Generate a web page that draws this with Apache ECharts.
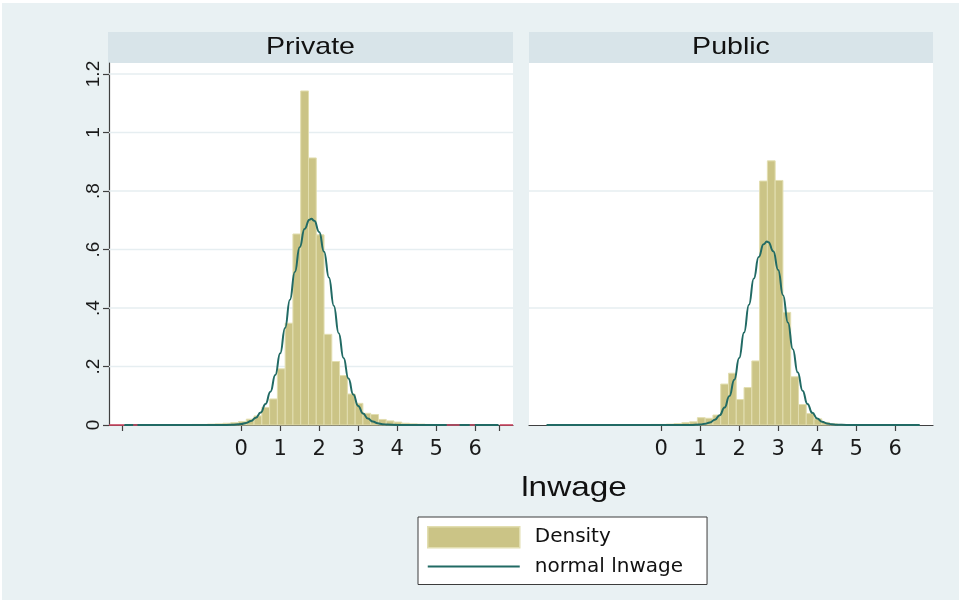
<!DOCTYPE html>
<html><head><meta charset="utf-8">
<script src="https://cdn.jsdelivr.net/npm/echarts@6/dist/echarts.min.js"></script>
<style>html,body{margin:0;padding:0;background:#ffffff}#c{width:964px;height:603px}</style>
</head><body><div id="c"></div>
<script>
// ---------------- data ----------------
const panelTitles = ['Private', 'Public'];
const xTitle = 'lnwage';
const legendNames = ['Density', 'normal lnwage'];

const binStart = -3.06;
const binWidth = 0.1994;
// histogram densities, one value per bin (bin k starts at binStart + k*binWidth)
const privateDensity = [0,0,0,0,0.001,0.001,0.001,0.001,0.001,0.002,0.002,0.003,0.004,0.006,0.008,0.012,0.020,0.031,0.060,0.089,0.192,0.348,0.653,1.142,0.913,0.650,0.310,0.217,0.169,0.106,0.074,0.040,0.036,0.019,0.014,0.010,0.006,0.004,0.003,0.002,0.001,0.001,0.001,0.001,0.001,0,0,0,0];
const publicDensity = [0,0,0,0,0,0,0.001,0.001,0.001,0.001,0.001,0.001,0.001,0.001,0.002,0.002,0.003,0.005,0.008,0.011,0.025,0.023,0.034,0.140,0.177,0.087,0.128,0.219,0.834,0.903,0.836,0.385,0.165,0.070,0.039,0.021,0.009,0.004,0.002,0.001,0,0,0,0,0,0,0,0,0];

// normal density overlay as [lnwage, density]
const privateNormal = [[-3.0,0],[-1.0,0],[-0.5,0.0001],[-0.25,0.0007],[0,0.0033],[0.125,0.0068],[0.25,0.0133],[0.375,0.0246],[0.5,0.043],[0.625,0.072],[0.75,0.114],[0.875,0.171],[1.0,0.245],[1.125,0.332],[1.25,0.428],[1.375,0.523],[1.5,0.608],[1.625,0.670],[1.75,0.702],[1.8,0.705],[1.875,0.698],[2.0,0.660],[2.125,0.592],[2.25,0.504],[2.375,0.408],[2.5,0.314],[2.625,0.229],[2.75,0.159],[2.875,0.104],[3.0,0.065],[3.125,0.039],[3.25,0.022],[3.375,0.0117],[3.5,0.0059],[3.625,0.0029],[3.75,0.0013],[4.0,0.0002],[4.5,0],[6.6,0]];
const publicNormal = [[-2.94,0],[0,0],[0.5,0.0001],[0.75,0.0003],[1.0,0.0018],[1.125,0.0041],[1.25,0.0088],[1.375,0.0178],[1.5,0.0335],[1.625,0.0596],[1.75,0.099],[1.875,0.155],[2.0,0.229],[2.125,0.316],[2.25,0.411],[2.375,0.501],[2.5,0.574],[2.625,0.618],[2.71,0.627],[2.75,0.625],[2.875,0.594],[3.0,0.530],[3.125,0.444],[3.25,0.350],[3.375,0.259],[3.5,0.180],[3.625,0.1175],[3.75,0.0722],[3.875,0.0415],[4.0,0.0225],[4.125,0.0114],[4.25,0.0055],[4.375,0.0025],[4.5,0.001],[4.75,0.0002],[5.0,0],[6.63,0]];

const xTickValues = [0,1,2,3,4,5,6];
const xTickLabels = ['0','1','2','3','4','5','6'];
const privateExtraTicks = [-3.06, 6.63];
const yTickValues = [0,0.2,0.4,0.6,0.8,1,1.2];
const yTickLabels = ['0','.2','.4','.6','.8','1','1.2'];
const privateGridValues = [0.2,0.4,0.6,0.8,1,1.2];
const publicGridValues = [0.4,0.8];
const redBaseSegments = [[-3.39,-3.0],[-2.77,-2.66],[5.27,5.6],[5.86,5.99],[6.63,6.97]];

// ---------------- style ----------------
const BAR = '#cbc486';
const BAR_EDGE = '#e2deb0';
const LINE = '#216a64';
const GRIDC = '#e6eef1';
const AXISC = '#404040';
const X_MIN = -3.39, X_MAX = 6.97, Y_MAX = 1.2376;

function toBins(arr){
  const out = [];
  arr.forEach((h, k) => {
    const x0 = binStart + k * binWidth;
    out.push([x0, x0 + binWidth, h]);
  });
  return out;
}
function renderBar(params, api){
  const x0 = api.value(0), x1 = api.value(1), h = api.value(2);
  if (!(h > 0)) return {type:'group', children:[]};
  const p0 = api.coord([x0, h]);
  const p1 = api.coord([x1, 0]);
  return {type:'rect', shape:{x:p0[0], y:p0[1], width:p1[0]-p0[0], height:p1[1]-p0[1]},
          style:{fill:BAR, stroke:BAR_EDGE, lineWidth:1}};
}
function renderGridLine(params, api){
  const v = api.value(0);
  const a = api.coord([X_MIN, v]);
  const b = api.coord([X_MAX, v]);
  return {type:'line', shape:{x1:a[0], y1:a[1], x2:b[0], y2:b[1]}, style:{stroke:GRIDC, lineWidth:1.5}};
}
function renderSegment(params, api){
  const a = api.coord([api.value(0), 0]);
  const b = api.coord([api.value(1), 0]);
  return {type:'line', shape:{x1:a[0], y1:a[1], x2:b[0], y2:b[1]}, style:{stroke:'#c8455f', lineWidth:1.6}};
}
function gridSeries(idx, vals){
  return {type:'custom', name:'grid'+idx, xAxisIndex:idx, yAxisIndex:idx, z:1, silent:true,
    renderItem:renderGridLine, encode:{y:0}, data:vals.map(v => [v])};
}

const xAxisBase = (idx, ticks) => ({
  type:'value', gridIndex:idx, min:X_MIN, max:X_MAX,
  axisLine:{show:true, onZero:false, lineStyle:{color:AXISC, width:1.2}},
  axisTick:{show:true, length:6, lineStyle:{color:AXISC, width:1.2}, customValues:ticks},
  axisLabel:{show:true, customValues:xTickValues, formatter:v => xTickLabels[xTickValues.indexOf(v)] ?? '',
    fontFamily:'DejaVu Sans', fontSize:21, color:'#1a1a1a', margin:14},
  splitLine:{show:false}
});

const option = {
  backgroundColor:'#ffffff',
  animation:false,
  grid:[
    {left:109, top:63, width:404, height:362, backgroundColor:'#ffffff', show:true, borderWidth:0},
    {left:529, top:63, width:404, height:362, backgroundColor:'#ffffff', show:true, borderWidth:0}
  ],
  xAxis:[
    xAxisBase(0, privateExtraTicks.slice(0,1).concat(xTickValues, privateExtraTicks.slice(1))),
    xAxisBase(1, xTickValues)
  ],
  yAxis:[
    {type:'value', gridIndex:0, min:0, max:Y_MAX,
     axisLine:{show:true, onZero:false, lineStyle:{color:AXISC, width:1.2}},
     axisTick:{show:true, length:6, lineStyle:{color:AXISC, width:1.2}, customValues:yTickValues},
     axisLabel:{show:true, customValues:yTickValues, rotate:90, margin:6,
       formatter:v => { const i = yTickValues.findIndex(t => Math.abs(t-v)<1e-9); return i>=0 ? yTickLabels[i] : ''; },
       fontFamily:'Liberation Sans', fontSize:19, color:'#1a1a1a'},
     splitLine:{show:false}},
    {type:'value', gridIndex:1, min:0, max:Y_MAX,
     axisLine:{show:false, onZero:false}, axisTick:{show:false}, axisLabel:{show:false}, splitLine:{show:false}}
  ],
  legend:{
    orient:'vertical', left:418, top:517,
    padding:[9,24,8,9], itemGap:8, itemWidth:92, itemHeight:21,
    symbolKeepAspect:true,
    backgroundColor:'#ffffff', borderColor:'#3c3c3c', borderWidth:1, borderRadius:0,
    textStyle:{fontFamily:'DejaVu Sans', fontSize:20, color:'#111', padding:[0,0,0,10]},
    data:[{name:legendNames[0], icon:'rect', itemStyle:{color:BAR, borderColor:BAR_EDGE, borderWidth:1.5}},
          {name:legendNames[1], icon:'path://M0,0L92,0L92,2L0,2Z', itemStyle:{color:LINE, borderWidth:0}}]
  },
  series:[
    gridSeries(0, privateGridValues),
    gridSeries(1, publicGridValues),
    {type:'custom', name:legendNames[0], xAxisIndex:0, yAxisIndex:0, z:3, renderItem:renderBar,
     encode:{x:[0,1], y:2}, itemStyle:{color:BAR}, data:toBins(privateDensity)},
    {type:'custom', name:legendNames[0], xAxisIndex:1, yAxisIndex:1, z:3, renderItem:renderBar,
     encode:{x:[0,1], y:2}, itemStyle:{color:BAR}, data:toBins(publicDensity)},
    {type:'line', name:legendNames[1], xAxisIndex:0, yAxisIndex:0, z:5, data:privateNormal,
     symbol:'none', showSymbol:false, smooth:0.5, smoothMonotone:'x',
     lineStyle:{color:LINE, width:2}, itemStyle:{color:LINE}},
    {type:'line', name:legendNames[1], xAxisIndex:1, yAxisIndex:1, z:5, data:publicNormal,
     symbol:'none', showSymbol:false, smooth:0.5, smoothMonotone:'x',
     lineStyle:{color:LINE, width:2}, itemStyle:{color:LINE}},
    {type:'custom', name:'base', xAxisIndex:0, yAxisIndex:0, z:8, silent:true, clip:false,
     renderItem:renderSegment, encode:{x:[0,1]}, data:redBaseSegments}
  ],
  graphic:[
    {type:'rect', z:-10, shape:{x:2, y:3, width:957, height:597}, style:{fill:'#e9f1f3'}},
    {type:'rect', z:-5, shape:{x:108, y:32, width:405, height:31}, style:{fill:'#d8e4e9'}},
    {type:'rect', z:-5, shape:{x:529, y:32, width:404, height:31}, style:{fill:'#d8e4e9'}},
    {type:'text', x:310.5, y:47.5, scaleX:1.19, style:{text:panelTitles[0], font:'24px "Liberation Sans"', fill:'#111', textAlign:'center', textVerticalAlign:'middle'}},
    {type:'text', x:731, y:47.5, scaleX:1.19, style:{text:panelTitles[1], font:'24px "Liberation Sans"', fill:'#111', textAlign:'center', textVerticalAlign:'middle'}},
    {type:'text', x:574, y:488, scaleX:1.19, style:{text:xTitle, font:'28px "Liberation Sans"', fill:'#111', textAlign:'center', textVerticalAlign:'middle'}}
  ]
};
const chart = echarts.init(document.getElementById('c'), null, {renderer:'canvas'});
chart.setOption(option);
</script>
</body></html>
